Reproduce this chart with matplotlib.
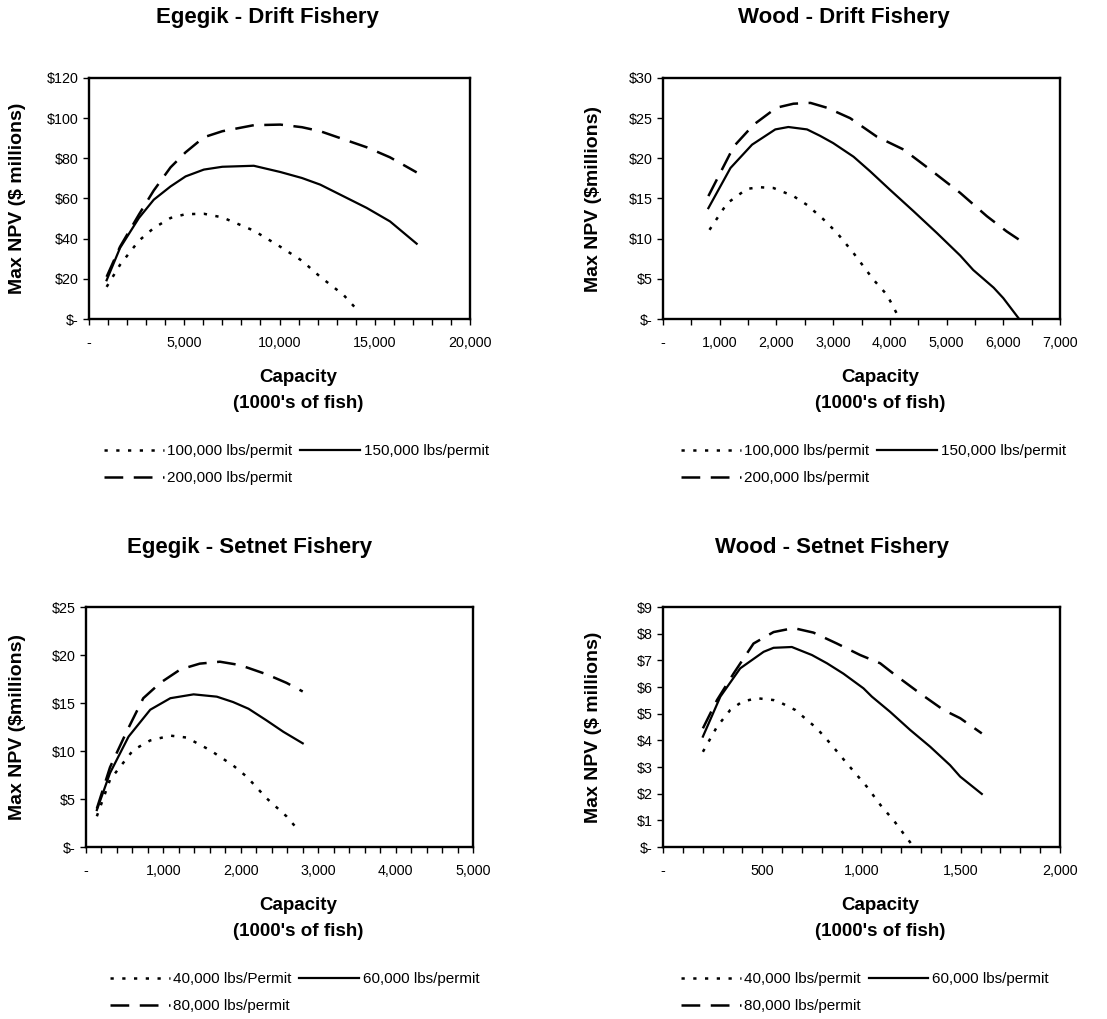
import matplotlib
matplotlib.use("Agg")
import matplotlib.pyplot as plt
from matplotlib.ticker import FuncFormatter, MultipleLocator

plt.rcParams['font.family'] = ['Liberation Sans', 'DejaVu Sans']

W, H = 1107, 1019
DPI = 100

# ---------------- Data ----------------
# Egegik - Drift Fishery
eg_drift_x_lo = [925, 1630, 2620, 3400, 4280, 5070, 6030, 7000, 8650, 10040, 11180, 12140, 13360, 14150]
eg_drift_lo = [16, 27, 39, 45.3, 50.3, 52.2, 52.4, 50.6, 44, 36, 29, 21, 12, 3.8]
eg_drift_x = [925, 1630, 2620, 3400, 4280, 5070, 6030, 7000, 8650, 10040, 11180, 12140, 13360, 14580, 15800, 17200]
eg_drift_mid = [19.3, 35.4, 50.3, 59.4, 66, 71, 74.4, 75.8, 76.3, 73.2, 70.2, 66.9, 61.1, 55.3, 48.6, 37.5]
eg_drift_hi = [21, 36, 52, 64, 75.5, 83, 90.5, 93.5, 96.5, 96.8, 95.5, 93.5, 89.5, 85.5, 80.5, 73]

# Wood - Drift Fishery
wd_drift_x_lo = [820, 1130, 1480, 1710, 1950, 2300, 2540, 2830, 3070, 3360, 3710, 3950, 4150]
wd_drift_lo = [11.1, 14.4, 16.2, 16.4, 16.3, 15.3, 14.2, 12.4, 10.7, 8.2, 4.9, 3.0, 0.3]
wd_drift_x_mid = [800, 1190, 1570, 1980, 2210, 2540, 2770, 3000, 3360, 3650, 4000, 4420, 4830, 5240, 5470, 5830, 6000, 6280]
wd_drift_mid = [13.8, 18.8, 21.7, 23.6, 23.9, 23.6, 22.8, 21.9, 20.2, 18.4, 16.1, 13.4, 10.7, 7.9, 6.1, 3.9, 2.6, 0.0]
wd_drift_x_hi = [800, 1250, 1600, 2000, 2300, 2600, 2890, 3300, 3770, 4240, 4710, 5240, 5710, 6060, 6400]
wd_drift_hi = [15.3, 21.5, 24.2, 26.3, 26.8, 26.9, 26.3, 25.0, 22.7, 21.1, 18.6, 15.7, 12.8, 10.9, 9.3]

# Egegik - Setnet Fishery
eg_set_x = [140, 310, 550, 830, 1090, 1390, 1690, 1900, 2100, 2330, 2550, 2800]
eg_set_mid = [3.85, 7.7, 11.5, 14.3, 15.5, 15.9, 15.66, 15.1, 14.4, 13.2, 12.0, 10.8]
eg_set_x_hi = [140, 310, 530, 740, 960, 1220, 1470, 1730, 1990, 2330, 2590, 2800]
eg_set_hi = [4.0, 8.3, 12.1, 15.5, 17.1, 18.5, 19.1, 19.3, 18.95, 18.0, 17.1, 16.2]
eg_set_x_lo = [140, 310, 610, 830, 1090, 1300, 1600, 1900, 2080, 2330, 2590, 2760]
eg_set_lo = [3.2, 7.0, 10.1, 11.1, 11.6, 11.4, 10.1, 8.5, 7.3, 5.1, 3.2, 1.6]

# Wood - Setnet Fishery
wd_set_x_mid = [201, 289, 389, 507, 557, 649, 750, 826, 909, 1010, 1052, 1144, 1245, 1346, 1446, 1497, 1606]
wd_set_mid = [4.14, 5.64, 6.7, 7.32, 7.47, 7.5, 7.2, 6.89, 6.5, 5.95, 5.64, 5.07, 4.39, 3.76, 3.07, 2.64, 1.99]
wd_set_x_hi = [201, 272, 356, 456, 557, 658, 758, 876, 993, 1094, 1161, 1295, 1413, 1497, 1606]
wd_set_hi = [4.45, 5.51, 6.51, 7.63, 8.06, 8.21, 8.04, 7.63, 7.2, 6.89, 6.5, 5.76, 5.14, 4.83, 4.26]
wd_set_x_lo = [201, 272, 339, 399, 473, 557, 599, 666, 775, 842, 926, 1027, 1102, 1161, 1211, 1262]
wd_set_lo = [3.57, 4.51, 5.14, 5.45, 5.58, 5.51, 5.39, 5.14, 4.45, 3.89, 3.14, 2.26, 1.51, 1.01, 0.51, 0.01]

drift_labels = ["100,000 lbs/permit", "150,000 lbs/permit", "200,000 lbs/permit"]
eg_set_labels = ["40,000 lbs/Permit", "60,000 lbs/permit", "80,000 lbs/permit"]
wd_set_labels = ["40,000 lbs/permit", "60,000 lbs/permit", "80,000 lbs/permit"]

titles = ["Egegik - Drift Fishery", "Wood - Drift Fishery",
          "Egegik - Setnet Fishery", "Wood - Setnet Fishery"]
ylabels = ["Max NPV ($ millions)", "Max NPV ($millions)",
           "Max NPV ($millions)", "Max NPV ($ millions)"]

# ---------------- Figure ----------------
fig = plt.figure(figsize=(W / DPI, H / DPI), dpi=DPI)


def add_ax(l, r, t, b):
    return fig.add_axes([l / W, 1 - b / H, (r - l) / W, (b - t) / H])


def xfmt(v, p):
    return "-" if abs(v) < 1e-9 else f"{v:,.0f}"


def yfmt(v, p):
    return "$-" if abs(v) < 1e-9 else f"${v:,.0f}"


LW = 1.8
STY = {
    'lo': dict(color='black', lw=LW, dashes=(1.3, 3.4)),
    'mid': dict(color='black', lw=1.6, linestyle='-'),
    'hi': dict(color='black', lw=LW, dashes=(7.5, 4.2)),
}

panels = [
    dict(rect=(89, 470, 78, 319), xmax=20000, xmaj=5000, xmin=1000, ymax=120, ymaj=20,
         series=[(eg_drift_x_lo, eg_drift_lo, 'lo'), (eg_drift_x, eg_drift_mid, 'mid'), (eg_drift_x, eg_drift_hi, 'hi')],
         labels=drift_labels),
    dict(rect=(663, 1060, 78, 319), xmax=7000, xmaj=1000, xmin=500, ymax=30, ymaj=5,
         series=[(wd_drift_x_lo, wd_drift_lo, 'lo'), (wd_drift_x_mid, wd_drift_mid, 'mid'), (wd_drift_x_hi, wd_drift_hi, 'hi')],
         labels=drift_labels),
    dict(rect=(86, 473, 607, 847), xmax=5000, xmaj=1000, xmin=200, ymax=25, ymaj=5,
         series=[(eg_set_x_lo, eg_set_lo, 'lo'), (eg_set_x, eg_set_mid, 'mid'), (eg_set_x_hi, eg_set_hi, 'hi')],
         labels=eg_set_labels),
    dict(rect=(663, 1060, 607, 847), xmax=2000, xmaj=500, xmin=100, ymax=9, ymaj=1,
         series=[(wd_set_x_lo, wd_set_lo, 'lo'), (wd_set_x_mid, wd_set_mid, 'mid'), (wd_set_x_hi, wd_set_hi, 'hi')],
         labels=wd_set_labels),
]

title_pos = [(267, 18), (844, 18), (250, 547), (832, 547)]
ylabel_x = [18, 593, 18, 593]
legend_left = [104, 681, 110, 681]

for i, p in enumerate(panels):
    l, r, t, b = p['rect']
    ax = add_ax(l, r, t, b)
    handles = []
    for (xs, ys, key), lab in zip(p['series'], p['labels']):
        ln, = ax.plot(xs, ys, label=lab, **STY[key])
        handles.append(ln)
    ax.set_xlim(0, p['xmax'])
    ax.set_ylim(0, p['ymax'])
    ax.xaxis.set_major_locator(MultipleLocator(p['xmaj']))
    ax.xaxis.set_minor_locator(MultipleLocator(p['xmin']))
    ax.yaxis.set_major_locator(MultipleLocator(p['ymaj']))
    ax.xaxis.set_major_formatter(FuncFormatter(xfmt))
    ax.yaxis.set_major_formatter(FuncFormatter(yfmt))
    ax.tick_params(axis='both', which='both', direction='out', length=4.5, width=1.0,
                   labelsize=10.3, color='black')
    ax.tick_params(axis='x', which='major', pad=8)
    ax.tick_params(axis='y', which='major', pad=3)
    for s in ax.spines.values():
        s.set_linewidth(1.7)
        s.set_color('black')

    # title
    tx, ty = title_pos[i]
    fig.text(tx / W, 1 - ty / H, titles[i], ha='center', va='center',
             fontsize=16, fontweight='bold')
    # ylabel
    fig.text(ylabel_x[i] / W, 1 - ((t + b) / 2) / H, ylabels[i], rotation=90,
             ha='center', va='center', fontsize=14, fontweight='bold')
    # xlabel
    cx = (l + r) / 2 + 19
    fig.text(cx / W, 1 - (b + 58) / H, "Capacity", ha='center', va='center',
             fontsize=13.5, fontweight='bold')
    fig.text(cx / W, 1 - (b + 85) / H, "(1000's of fish)", ha='center', va='center',
             fontsize=13.5, fontweight='bold')
    # legend: row-wise order (lo, mid / hi) -> column-major order lo, hi, mid
    order = [0, 2, 1]
    fig.legend(handles=[handles[k] for k in order], labels=[p['labels'][k] for k in order],
               ncol=2, frameon=False,
               loc='upper left', bbox_to_anchor=(legend_left[i] / W, 1 - (b + 125) / H),
               fontsize=11, handlelength=3.9, handletextpad=0.25, columnspacing=0.5,
               labelspacing=0.88, borderpad=0, borderaxespad=0)

fig.savefig("out.png", dpi=DPI)
